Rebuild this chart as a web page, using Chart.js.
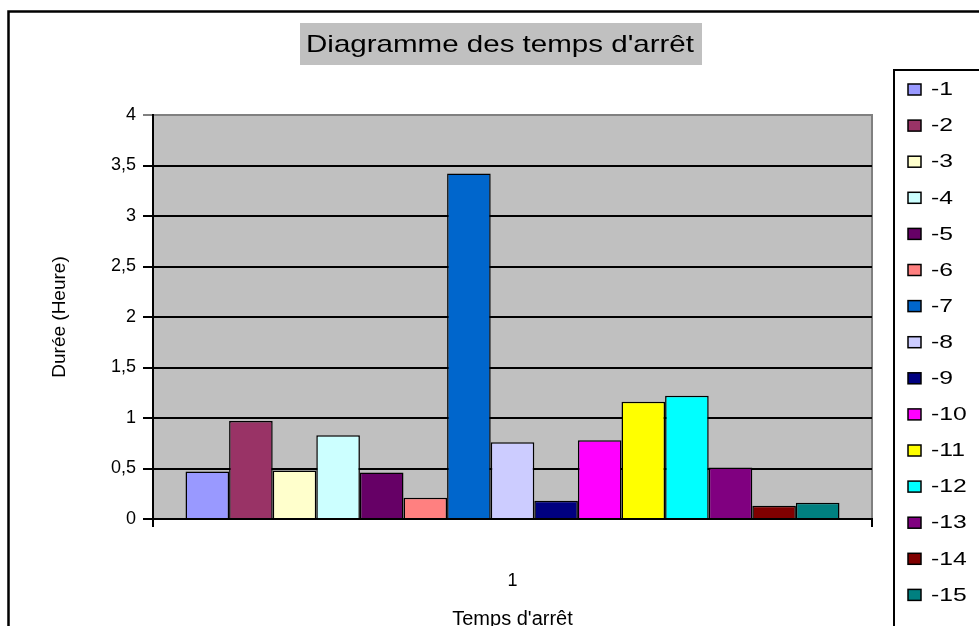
<!DOCTYPE html>
<html><head><meta charset="utf-8">
<script src="https://cdn.jsdelivr.net/npm/chart.js@4/dist/chart.umd.min.js"></script>
<style>html,body{margin:0;padding:0;background:#fff;}#wrap{position:relative;width:979px;height:626px;overflow:hidden;}canvas{display:block;}</style>
</head><body><div id="wrap"><canvas id="c" width="979" height="626"></canvas></div>
<script>
const chartTitle = "Diagramme des temps d'arrêt";
const xTitle = "Temps d'arrêt";
const yTitle = "Durée (Heure)";
const categories = ['1'];
const seriesLabels = ['-1','-2','-3','-4','-5','-6','-7','-8','-9','-10','-11','-12','-13','-14','-15'];
const seriesValues = [0.47, 0.97, 0.48, 0.83, 0.46, 0.21, 3.42, 0.76, 0.18, 0.78, 1.16, 1.22, 0.51, 0.13, 0.16];
const seriesColors = ['#9999FF','#993366','#FFFFCC','#CCFFFF','#660066','#FF8080','#0066CC','#CCCCFF','#000080','#FF00FF','#FFFF00','#00FFFF','#800080','#800000','#008080'];
const yTickLabels = {0:'0',0.5:'0,5',1:'1',1.5:'1,5',2:'2',2.5:'2,5',3:'3',3.5:'3,5',4:'4'};

const FONT = '"Liberation Sans", Arial, sans-serif';

function stretchedText(ctx, text, x, y, sx) {
  ctx.save();
  ctx.translate(x, y);
  ctx.scale(sx, 1);
  ctx.fillText(text, 0, 0);
  ctx.restore();
}

const decor = {
  id: 'decor',
  beforeDraw(chart) {
    const {ctx, chartArea: a} = chart;
    ctx.save();
    ctx.fillStyle = '#fff';
    ctx.fillRect(0, 0, chart.width, chart.height);
    // outer border
    ctx.strokeStyle = '#000';
    ctx.lineWidth = 2.5;
    ctx.strokeRect(8.5, 11.5, 1100, 700);
    // title box
    ctx.fillStyle = '#C0C0C0';
    ctx.fillRect(300, 23, 402, 42);
    ctx.fillStyle = '#000';
    ctx.font = '24px ' + FONT;
    ctx.textAlign = 'center';
    ctx.textBaseline = 'middle';
    const w = ctx.measureText(chartTitle).width;
    stretchedText(ctx, chartTitle, 500, 45, 388 / w);
    // plot background
    ctx.fillStyle = '#C0C0C0';
    ctx.fillRect(a.left, a.top, a.right - a.left, a.bottom - a.top);
    ctx.strokeStyle = '#808080';
    ctx.lineWidth = 2;
    ctx.beginPath();
    ctx.moveTo(a.left, a.top); ctx.lineTo(a.right, a.top); ctx.lineTo(a.right, a.bottom);
    ctx.stroke();
    ctx.restore();
  },
  afterDraw(chart) {
    const {ctx} = chart;
    ctx.save();
    // legend box
    ctx.strokeStyle = '#000';
    ctx.lineWidth = 2;
    ctx.strokeRect(894, 70, 300, 700);
    ctx.font = '19px ' + FONT;
    ctx.textAlign = 'left';
    ctx.textBaseline = 'middle';
    chart.data.datasets.forEach((ds, i) => {
      const y = 89 + i * 36.1;
      ctx.fillStyle = ds.backgroundColor;
      ctx.fillRect(908, y - 5, 13, 11);
      ctx.lineWidth = 1.5;
      ctx.strokeStyle = '#000';
      ctx.strokeRect(908, y - 5, 13, 11);
      ctx.fillStyle = '#000';
      stretchedText(ctx, ds.label, 931, y + 1, 1.3);
    });
    ctx.restore();
  }
};

new Chart(document.getElementById('c'), {
  type: 'bar',
  data: {
    labels: categories,
    datasets: seriesLabels.map((lab, i) => ({
      label: lab,
      data: [seriesValues[i]],
      backgroundColor: seriesColors[i],
      borderColor: '#000',
      borderWidth: 1.5,
      categoryPercentage: 0.9096,
      barPercentage: 1
    }))
  },
  options: {
    responsive: false,
    animation: false,
    devicePixelRatio: 1,
    layout: {padding: {left: 20, top: 115, right: 107, bottom: 0}},
    plugins: {legend: {display: false}, title: {display: false}, tooltip: {enabled: false}},
    scales: {
      x: {
        offset: true,
        grid: {display: true, offset: true, drawOnChartArea: false, drawTicks: true, tickLength: 8, color: '#000', lineWidth: 2},
        border: {display: true, color: '#000', width: 2},
        ticks: {color: '#000', font: {family: FONT, size: 18}, padding: 43},
        title: {display: true, text: xTitle, color: '#000', font: {family: FONT, size: 20, lineHeight: 1}, padding: {top: 0, bottom: -3}},
        afterFit(s) { s.height = 107; }
      },
      y: {
        min: 0, max: 4,
        ticks: {stepSize: 0.5, color: '#000', font: {family: FONT, size: 18}, padding: 7,
                callback: v => yTickLabels[v] !== undefined ? yTickLabels[v] : ''},
        grid: {color: ctx => ctx.tick && ctx.tick.value === 4 ? '#808080' : '#000', lineWidth: 2, drawTicks: true, tickLength: 10},
        border: {display: true, color: '#000', width: 2},
        title: {display: true, text: yTitle, color: '#000', font: {family: FONT, size: 19}, padding: {top: 28, bottom: 0}},
        afterFit(s) { s.width = 133; }
      }
    }
  },
  plugins: [decor]
});
</script>
</body></html>
